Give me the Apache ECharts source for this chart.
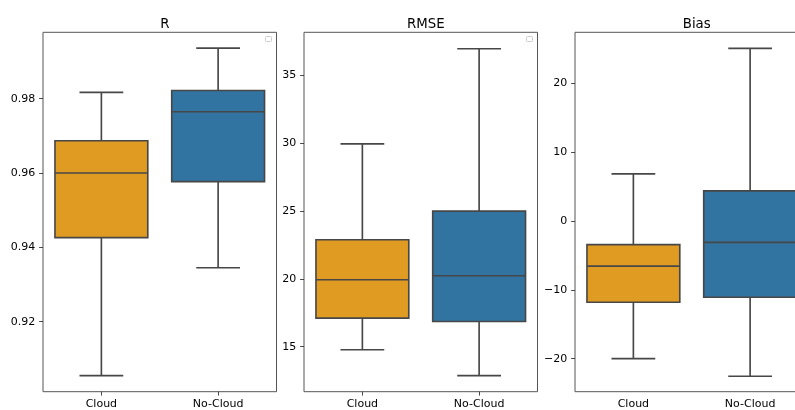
<!DOCTYPE html>
<html><head><meta charset="utf-8">
<script src="https://cdn.jsdelivr.net/npm/echarts@6/dist/echarts.min.js"></script>
<style>html,body{margin:0;padding:0;background:#fff;overflow:hidden}#c{width:812px;height:410px}</style>
</head><body><div id="c"></div>
<script>
const categories = ['Cloud', 'No-Cloud'];
const panelTitles = ['R', 'RMSE', 'Bias'];
// [low whisker, Q1, median, Q3, high whisker]
const rStats = [[0.9055, 0.9426, 0.9600, 0.9687, 0.9817], [0.9345, 0.9577, 0.9765, 0.9822, 0.9936]];
const rmseStats = [[14.78, 17.11, 19.93, 22.87, 29.93], [12.87, 16.86, 20.22, 24.98, 36.93]];
const biasStats = [[-20.0, -11.8, -6.55, -3.44, 6.84], [-22.56, -11.08, -3.10, 4.37, 25.09]];
const rTicks = [0.92, 0.94, 0.96, 0.98];
const rmseTicks = [15, 20, 25, 30, 35];
const biasTicks = [-20, -10, 0, 10, 20];
const rRange = [0.90116, 0.99787];
const rmseRange = [11.69, 38.14];
const biasRange = [-24.8, 27.42];

const boxColors = ['#E09C22', '#3274A1'];
const lineColor = '#474747';
const font = 'DejaVu Sans';

const panels = [
  {stats: rStats, ticks: rTicks, range: rRange, fmt: v => v.toFixed(2)},
  {stats: rmseStats, ticks: rmseTicks, range: rmseRange, fmt: v => String(v)},
  {stats: biasStats, ticks: biasTicks, range: biasRange, fmt: v => (v < 0 ? '\u2212' + Math.abs(v) : String(v))}
];
const gridLefts = [43, 304, 575];
const gridW = 233.5, gridTop = 32.3, gridH = 359.4;

function renderBox(params, api) {
  const i = api.value(0);
  const lo = api.value(1), q1 = api.value(2), md = api.value(3), q3 = api.value(4), hi = api.value(5);
  const band = api.size([1, 0])[0];
  const cx = api.coord([i, md])[0];
  const y = v => api.coord([i, v])[1];
  const bw = band * 0.795, cw = band * 0.375;
  const ls = {stroke: lineColor, lineWidth: 1.65};
  return {
    type: 'group',
    children: [
      {type: 'line', shape: {x1: cx, y1: y(lo), x2: cx, y2: y(q1)}, style: ls},
      {type: 'line', shape: {x1: cx, y1: y(q3), x2: cx, y2: y(hi)}, style: ls},
      {type: 'line', shape: {x1: cx - cw / 2, y1: y(lo), x2: cx + cw / 2, y2: y(lo)}, style: ls},
      {type: 'line', shape: {x1: cx - cw / 2, y1: y(hi), x2: cx + cw / 2, y2: y(hi)}, style: ls},
      {type: 'rect', shape: {x: cx - bw / 2, y: y(q3), width: bw, height: y(q1) - y(q3)},
        style: {fill: boxColors[i], stroke: lineColor, lineWidth: 1.65}},
      {type: 'line', shape: {x1: cx - bw / 2, y1: y(md), x2: cx + bw / 2, y2: y(md)}, style: ls}
    ]
  };
}

const option = {
  animation: false,
  backgroundColor: '#fff',
  title: panelTitles.map((t, k) => ({
    text: t, left: gridLefts[k] + gridW / 2, top: 13.5, textAlign: 'center',
    textStyle: {fontFamily: font, fontSize: 13.3, fontWeight: 'normal', color: '#000'}
  })),
  grid: gridLefts.map(l => ({left: l, top: gridTop, width: gridW, height: gridH,
    show: true, borderColor: '#555', borderWidth: 1, backgroundColor: 'transparent', containLabel: false})),
  xAxis: panels.map((p, k) => ({
    type: 'category', gridIndex: k, data: categories, boundaryGap: true,
    axisLine: {show: false},
    axisTick: {show: true, alignWithLabel: true, length: 3.9, lineStyle: {color: '#333', width: 0.9}},
    axisLabel: {fontFamily: font, fontSize: 11, color: '#000', margin: 6.5},
    splitLine: {show: false}
  })),
  yAxis: panels.map((p, k) => ({
    type: 'value', gridIndex: k, min: p.range[0], max: p.range[1],
    axisLine: {show: false},
    axisTick: {show: true, length: 3.9, customValues: p.ticks, lineStyle: {color: '#333', width: 0.9}},
    axisLabel: {fontFamily: font, fontSize: 11, color: '#000', margin: 7.8, customValues: p.ticks, formatter: p.fmt},
    splitLine: {show: false}
  })),
  series: panels.map((p, k) => ({
    type: 'custom', xAxisIndex: k, yAxisIndex: k,
    renderItem: renderBox, clip: true,
    data: p.stats.map((s, i) => [i].concat(s))
  })),
  graphic: [
    {type: 'rect', shape: {x: 265.5, y: 36.5, width: 6, height: 5, r: 1}, style: {fill: '#fff', stroke: '#ccc', lineWidth: 1}},
    {type: 'rect', shape: {x: 526.5, y: 36.5, width: 6, height: 5, r: 1}, style: {fill: '#fff', stroke: '#ccc', lineWidth: 1}}
  ]
};
const chart = echarts.init(document.getElementById('c'));
chart.setOption(option);
</script></body></html>
